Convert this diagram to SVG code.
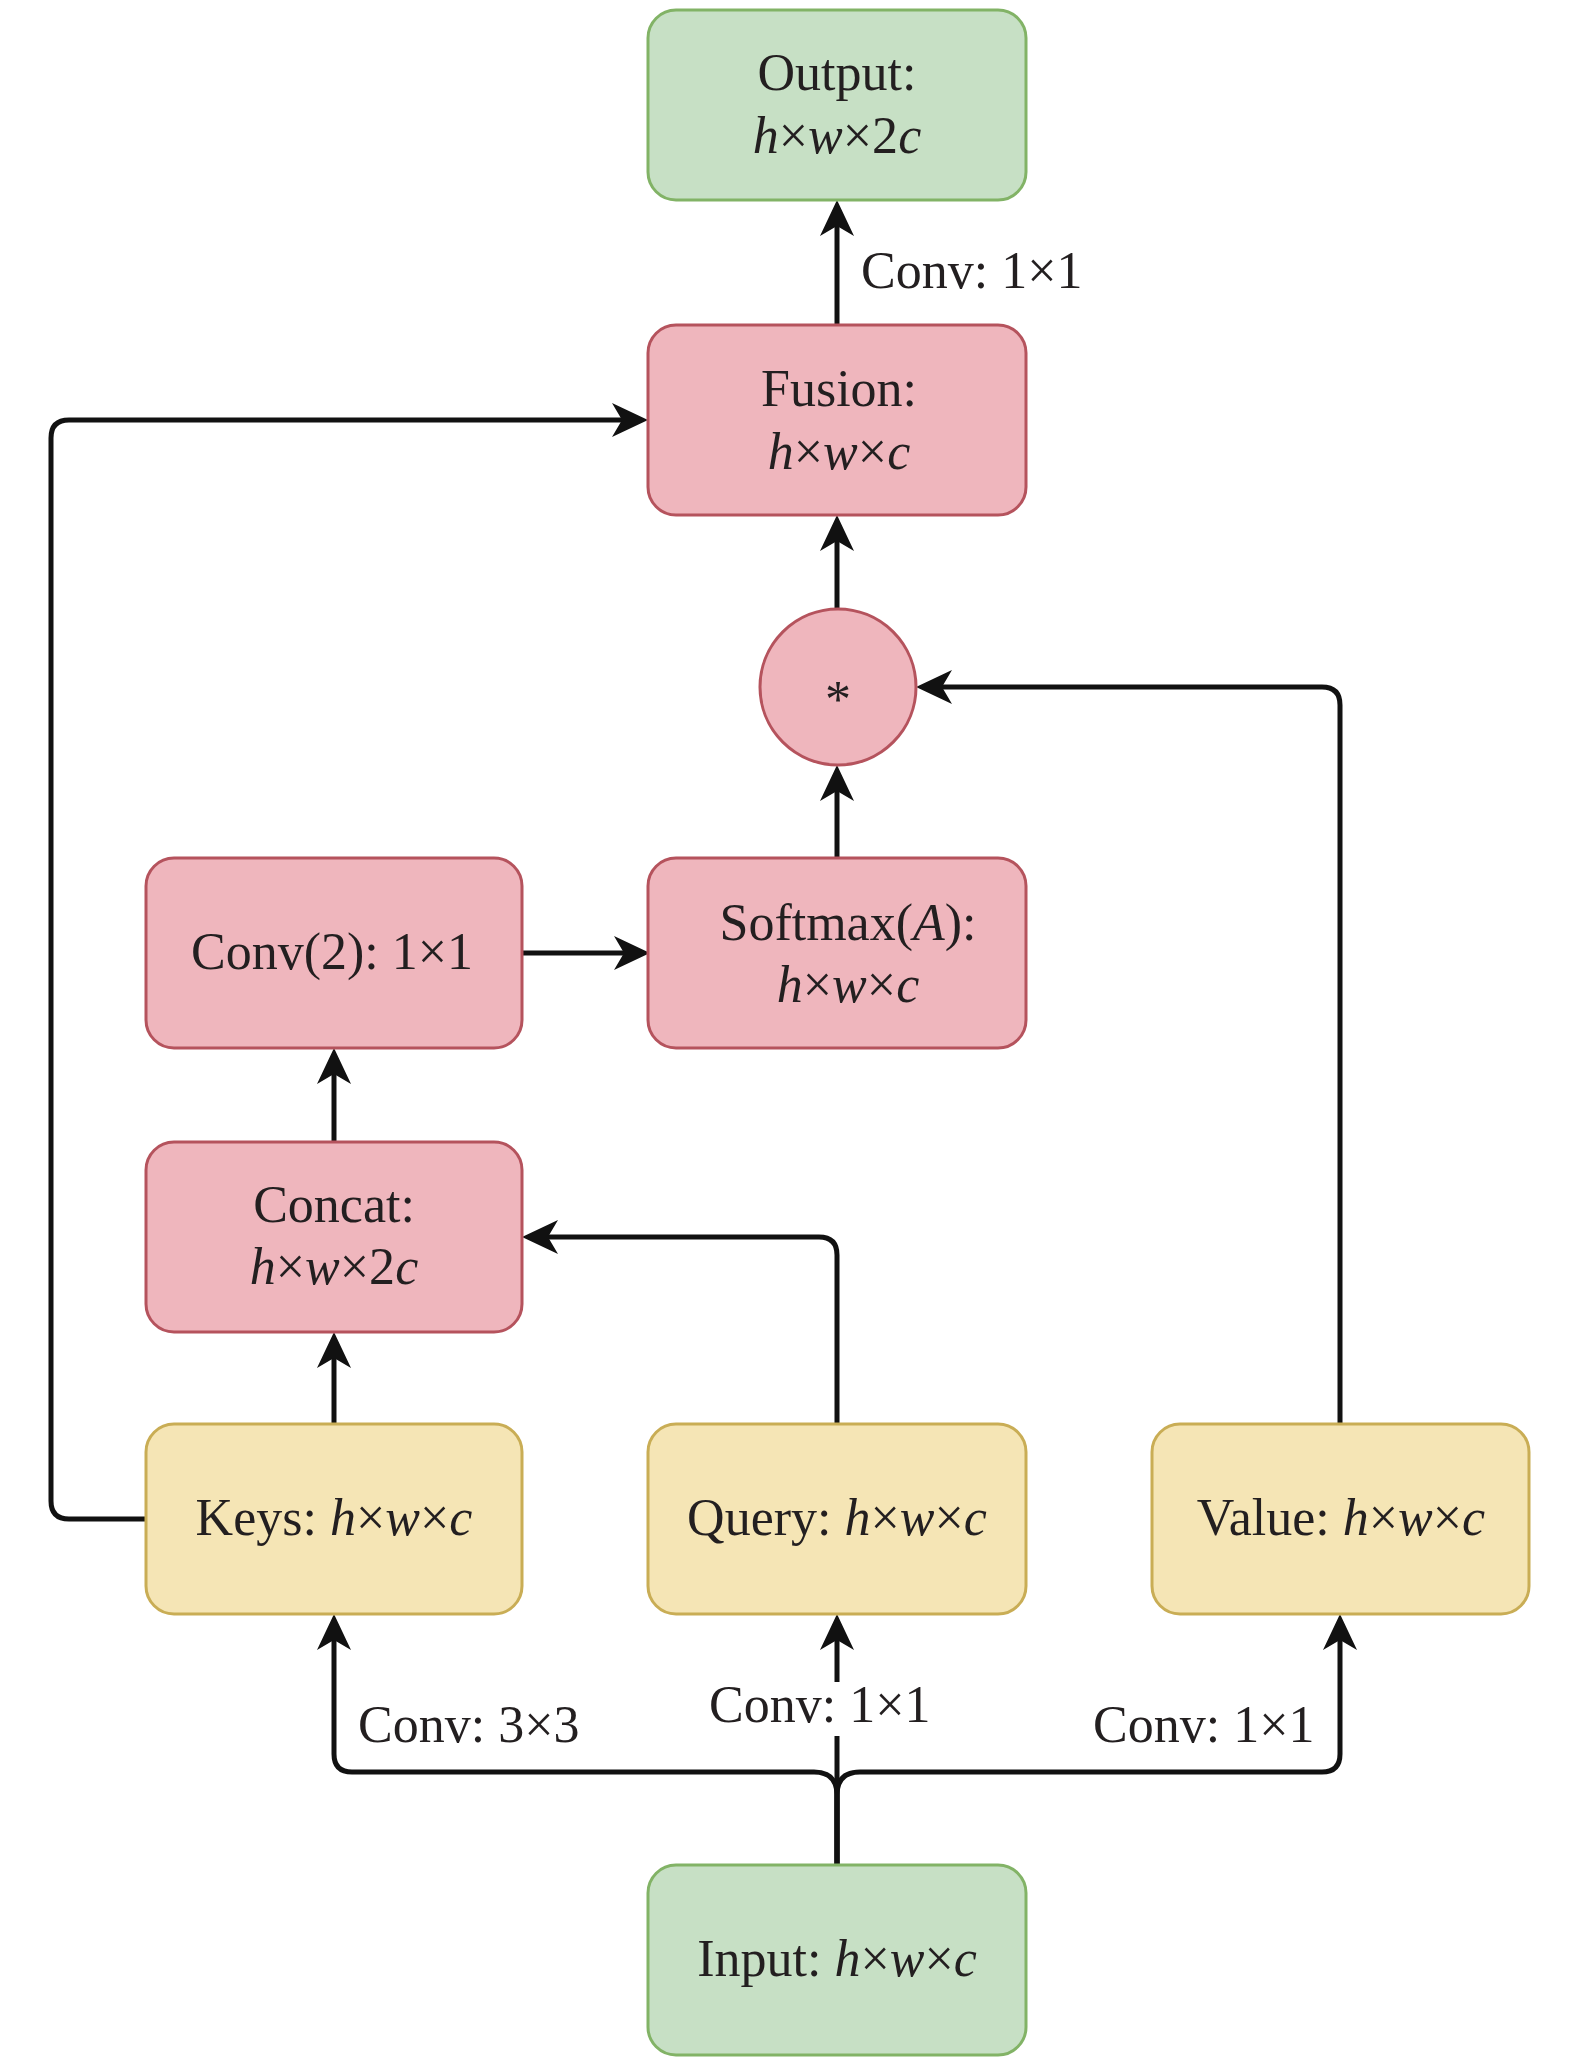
<svg xmlns="http://www.w3.org/2000/svg" width="1575" height="2067" viewBox="0 0 1575 2067">
<style>
.t{font-family:"Liberation Serif","Times New Roman",serif;font-size:52px;fill:#231f20;text-anchor:middle}
.l{font-family:"Liberation Serif","Times New Roman",serif;font-size:52px;fill:#231f20}
.i{font-style:italic}
.g{fill:#c7e0c5;stroke:#82b366;stroke-width:3}
.p{fill:#efb6bd;stroke:#b5535d;stroke-width:3}
.y{fill:#f5e5b5;stroke:#c9ad55;stroke-width:3}
.e{fill:none;stroke:#111;stroke-width:5}
</style>
<defs>
<marker id="ah" viewBox="-11 -18 38 36" refX="0" refY="0" markerWidth="38" markerHeight="36" markerUnits="userSpaceOnUse" orient="auto">
<path d="M26,0 L-10,-17 L0,0 L-10,17 Z" fill="#111"/>
</marker>
</defs>
<rect width="1575" height="2067" fill="#fff"/>
<g id="edges">
<path class="e" d="M837,325 L837,226" marker-end="url(#ah)"/>
<path class="e" d="M837,609 L837,541" marker-end="url(#ah)"/>
<path class="e" d="M837,858 L837,791" marker-end="url(#ah)"/>
<path class="e" d="M1340,1424 L1340,705 Q1340,687 1322,687 L942,687" marker-end="url(#ah)"/>
<path class="e" d="M522,953 L624,953" marker-end="url(#ah)"/>
<path class="e" d="M334,1142 L334,1074" marker-end="url(#ah)"/>
<path class="e" d="M334,1424 L334,1358" marker-end="url(#ah)"/>
<path class="e" d="M837,1424 L837,1255 Q837,1237 819,1237 L548,1237" marker-end="url(#ah)"/>
<path class="e" d="M146,1519 L69,1519 Q51,1519 51,1501 L51,438 Q51,420 69,420 L622,420" marker-end="url(#ah)"/>
<path class="e" d="M837,1865 L837,1795 Q837,1772 814,1772 L352,1772 Q334,1772 334,1754 L334,1640" marker-end="url(#ah)"/>
<path class="e" d="M837,1865 L837,1795 Q837,1772 860,1772 L1322,1772 Q1340,1772 1340,1754 L1340,1640" marker-end="url(#ah)"/>
<path class="e" d="M837,1865 L837,1640" marker-end="url(#ah)"/>
<rect x="706" y="1682" width="228" height="54" fill="#fff"/>
<text class="l" x="709" y="1722">Conv: 1×1</text>
<text class="l" x="358" y="1742">Conv: 3×3</text>
<text class="l" x="1093" y="1742">Conv: 1×1</text>
<text class="l" x="861" y="288">Conv: 1×1</text>
</g>
<g id="output">
<rect class="g" x="648" y="10" width="378" height="190" rx="28"/>
<text class="t" x="837" y="90">Output:</text>
<text class="t" x="837" y="153"><tspan class="i">h</tspan>×<tspan class="i">w</tspan>×2<tspan class="i">c</tspan></text>
</g>
<g id="fusion">
<rect class="p" x="648" y="325" width="378" height="190" rx="28"/>
<text class="t" x="839" y="406">Fusion:</text>
<text class="t" x="839" y="469"><tspan class="i">h</tspan>×<tspan class="i">w</tspan>×<tspan class="i">c</tspan></text>
</g>
<g id="mult">
<circle class="p" cx="838" cy="687" r="78"/>
<text class="t" x="838" y="717">*</text>
</g>
<g id="conv2">
<rect class="p" x="146" y="858" width="376" height="190" rx="28"/>
<text class="t" x="332" y="969">Conv(2): 1×1</text>
</g>
<g id="softmax">
<rect class="p" x="648" y="858" width="378" height="190" rx="28"/>
<text class="t" x="848" y="940">Softmax(<tspan class="i">A</tspan>):</text>
<text class="t" x="848" y="1002"><tspan class="i">h</tspan>×<tspan class="i">w</tspan>×<tspan class="i">c</tspan></text>
</g>
<g id="concat">
<rect class="p" x="146" y="1142" width="376" height="190" rx="28"/>
<text class="t" x="334" y="1222">Concat:</text>
<text class="t" x="334" y="1284"><tspan class="i">h</tspan>×<tspan class="i">w</tspan>×2<tspan class="i">c</tspan></text>
</g>
<g id="keys">
<rect class="y" x="146" y="1424" width="376" height="190" rx="28"/>
<text class="t" x="334" y="1535">Keys: <tspan class="i">h</tspan>×<tspan class="i">w</tspan>×<tspan class="i">c</tspan></text>
</g>
<g id="query">
<rect class="y" x="648" y="1424" width="378" height="190" rx="28"/>
<text class="t" x="837" y="1535">Query: <tspan class="i">h</tspan>×<tspan class="i">w</tspan>×<tspan class="i">c</tspan></text>
</g>
<g id="value">
<rect class="y" x="1152" y="1424" width="377" height="190" rx="28"/>
<text class="t" x="1341" y="1535">Value: <tspan class="i">h</tspan>×<tspan class="i">w</tspan>×<tspan class="i">c</tspan></text>
</g>
<g id="input">
<rect class="g" x="648" y="1865" width="378" height="190" rx="28"/>
<text class="t" x="837" y="1976">Input: <tspan class="i">h</tspan>×<tspan class="i">w</tspan>×<tspan class="i">c</tspan></text>
</g>
</svg>
